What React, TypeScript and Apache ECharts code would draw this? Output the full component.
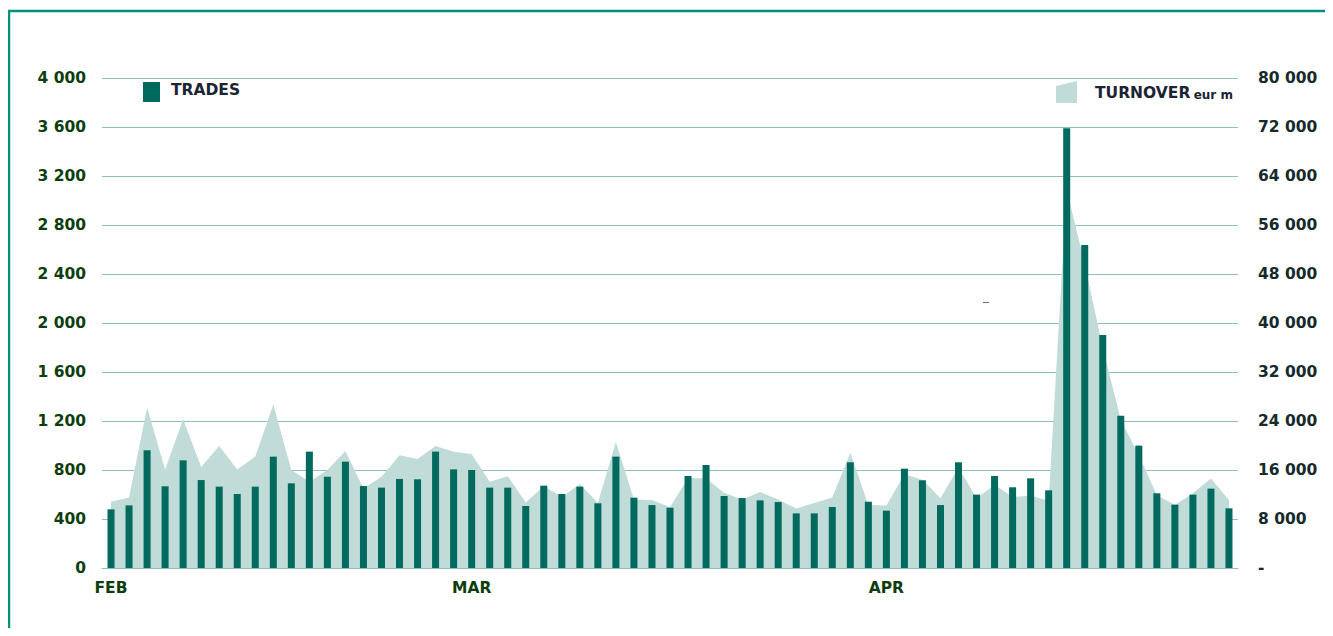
import React, { useEffect, useRef } from "react";
import * as echarts from "echarts";

const trades = [479, 511, 961, 667, 879, 718, 664, 604, 664, 909, 691, 950, 745, 868, 669, 656, 727, 724, 950, 805, 800, 656, 656, 506, 672, 604, 664, 528, 909, 574, 514, 492, 751, 841, 588, 571, 552, 539, 446, 446, 498, 863, 541, 468, 811, 716, 514, 863, 599, 751, 659, 732, 634, 3590, 2637, 1902, 1243, 999, 610, 517, 599, 648, 487];
const turnover = [10800, 11500, 26200, 16100, 24300, 16500, 19900, 16100, 18200, 26700, 16000, 14100, 16000, 19100, 13000, 14900, 18400, 17800, 19900, 19000, 18600, 14100, 15000, 10700, 13400, 11600, 13700, 10600, 20600, 11200, 11100, 9900, 14700, 14600, 12300, 11200, 12400, 11200, 9700, 10600, 11500, 18800, 10300, 10200, 15300, 14400, 11400, 16400, 11400, 13600, 11600, 11800, 11000, 61700, 49700, 35900, 24200, 18400, 11900, 10300, 12200, 14600, 11100];
const categories = trades.map((_, i) => "D" + (i + 1));
const monthLabels = ["FEB", "MAR", "APR"];
const monthStartIdx = [0, 20, 43];

const fmt = (v: number) => String(v).replace(/\B(?=(\d{3})+(?!\d))/g, " ");

const FONT = "'DejaVu Sans', Verdana, sans-serif";
const GRID = "#8fc0ba";

export default function App() {
  const ref = useRef<HTMLDivElement>(null);
  useEffect(() => {
    const chart = echarts.init(ref.current!, null, { renderer: "svg" });
    chart.setOption({
      animation: false,
      backgroundColor: "#ffffff",
      grid: { left: 94, right: 95, top: 70, bottom: 68 },
      xAxis: {
        type: "category",
        data: categories,
        boundaryGap: true,
        axisLine: { show: true, lineStyle: { color: GRID, width: 1 } },
        axisTick: { show: false },
        axisLabel: {
          interval: 0,
          margin: 12,
          color: "#0d3d0d",
          fontFamily: FONT,
          fontWeight: "bold",
          fontSize: 15.5,
          formatter: (_v: string, idx: number) => {
            const k = monthStartIdx.indexOf(idx);
            return k >= 0 ? monthLabels[k] : "";
          },
        },
      },
      yAxis: [
        {
          type: "value",
          min: 0,
          max: 4000,
          interval: 400,
          axisLine: { show: false },
          axisTick: { show: false },
          splitLine: { lineStyle: { color: GRID, width: 1 } },
          axisLabel: {
            margin: 16,
            color: "#0d3d0d",
            fontFamily: FONT,
            fontWeight: "bold",
            fontSize: 15.5,
            formatter: (v: number) => fmt(v),
          },
        },
        {
          type: "value",
          min: 0,
          max: 80000,
          interval: 8000,
          axisLine: { show: false },
          axisTick: { show: false },
          splitLine: { show: false },
          axisLabel: {
            margin: 20,
            color: "#16292b",
            fontFamily: FONT,
            fontWeight: "bold",
            fontSize: 15.5,
            formatter: (v: number) => (v === 0 ? "-" : fmt(v)),
          },
        },
      ],
      series: [
        {
          name: "TURNOVER",
          type: "line",
          yAxisIndex: 1,
          data: turnover,
          symbol: "none",
          lineStyle: { width: 0, color: "#c0dbd8" },
          areaStyle: { color: "#c0dbd8", opacity: 1 },
          z: 1,
        },
        {
          name: "TRADES",
          type: "bar",
          yAxisIndex: 0,
          data: trades,
          barWidth: 7,
          itemStyle: { color: "#016a5e" },
          z: 2,
        },
      ],
      graphic: [
        { type: "line", shape: { x1: 1, y1: 2, x2: 1, y2: 640 }, style: { stroke: "#00917d", lineWidth: 2.5 } },
        { type: "line", shape: { x1: 0, y1: 3, x2: 1330, y2: 3 }, style: { stroke: "#00917d", lineWidth: 2.5 } },
        { type: "rect", shape: { x: 135, y: 74, width: 17, height: 20 }, style: { fill: "#016a5e" } },
        {
          type: "text",
          x: 163,
          y: 82,
          style: { text: "TRADES", fill: "#1c2333", font: "bold 15.5px " + FONT, verticalAlign: "middle" },
        },
        {
          type: "polygon",
          shape: { points: [[1048, 78], [1069, 73], [1069, 95], [1048, 95]] },
          style: { fill: "#c0dbd8" },
        },
        {
          type: "text",
          x: 1087,
          y: 85,
          style: {
            text: "{a|TURNOVER} {b|eur m}",
            verticalAlign: "middle",
            rich: {
              a: { fill: "#1c2333", fontFamily: FONT, fontWeight: "bold", fontSize: 15.5 },
              b: { fill: "#1c2333", fontFamily: FONT, fontWeight: "bold", fontSize: 12, padding: [3, 0, 0, 0] },
            },
          },
        },
        { type: "line", shape: { x1: 975, y1: 294.5, x2: 981, y2: 294.5 }, style: { stroke: "#5a7488", lineWidth: 1 } },
      ],
    });
    return () => chart.dispose();
  }, []);
  return <div ref={ref} style={{ width: 1325, height: 628, marginBottom: -8 }} />;
}
